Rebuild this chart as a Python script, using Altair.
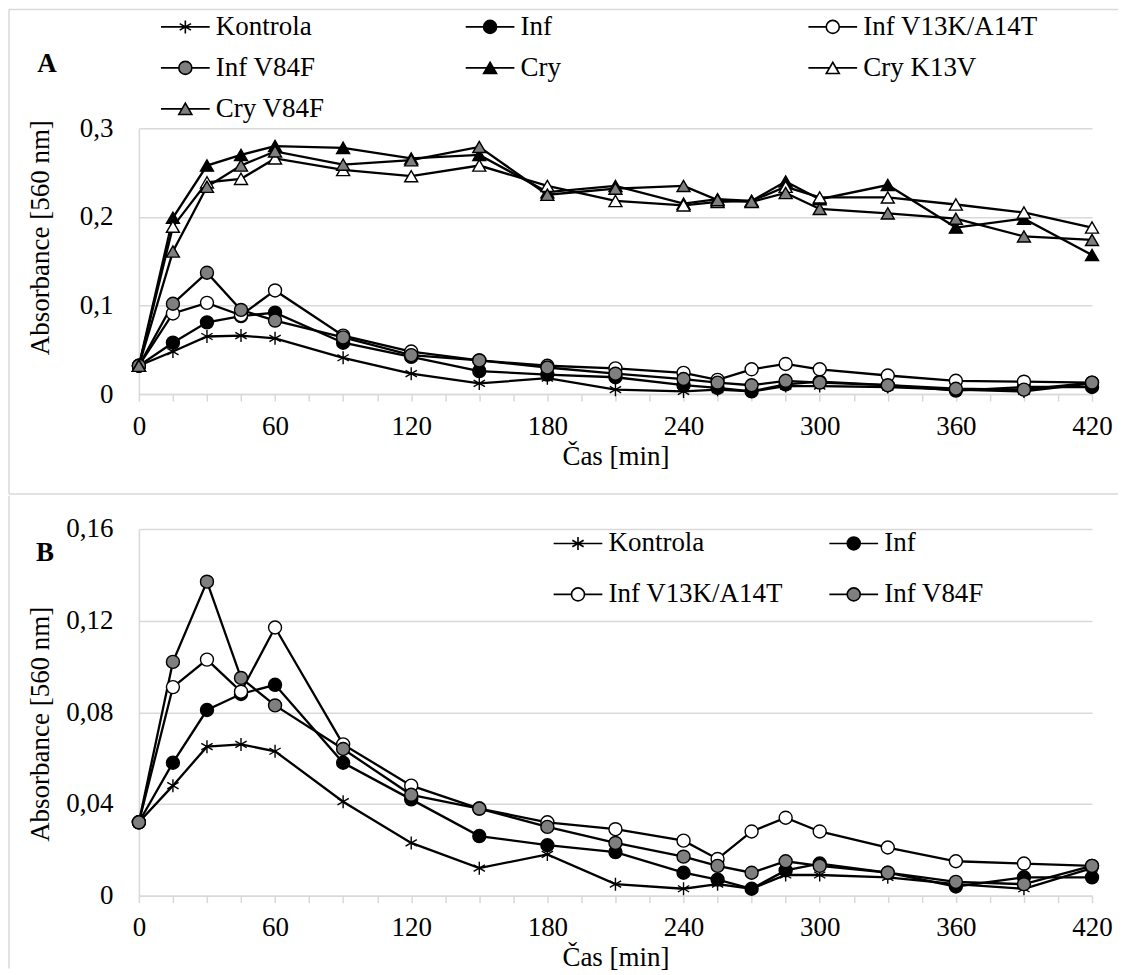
import altair as alt
import pandas as pd

# ---------------- data ----------------
times = [0, 15, 30, 45, 60, 90, 120, 150, 180, 210, 240, 255, 270, 285, 300, 330, 360, 390, 420]

kontrola = [0.032, 0.048, 0.065, 0.066, 0.063, 0.041, 0.023, 0.012, 0.018, 0.005,
            0.003, 0.005, 0.003, 0.009, 0.009, 0.008, 0.005, 0.003, 0.012]
inf = [0.032, 0.058, 0.081, 0.088, 0.092, 0.058, 0.042, 0.026, 0.022, 0.019,
       0.010, 0.007, 0.003, 0.011, 0.014, 0.010, 0.004, 0.008, 0.008]
inf_v13k_a14t = [0.032, 0.091, 0.103, 0.089, 0.117, 0.066, 0.048, 0.038, 0.032, 0.029,
                 0.024, 0.016, 0.028, 0.034, 0.028, 0.021, 0.015, 0.014, 0.013]
inf_v84f = [0.032, 0.102, 0.137, 0.095, 0.083, 0.064, 0.044, 0.038, 0.030, 0.023,
            0.017, 0.013, 0.010, 0.015, 0.013, 0.010, 0.006, 0.005, 0.013]
cry = [0.032, 0.199, 0.258, 0.270, 0.280, 0.278, 0.266, 0.270, 0.228, 0.235,
       0.215, 0.220, 0.218, 0.240, 0.220, 0.236, 0.188, 0.198, 0.157]
cry_k13v = [0.032, 0.189, 0.239, 0.243, 0.266, 0.253, 0.246, 0.258, 0.235, 0.218,
            0.213, 0.217, 0.218, 0.234, 0.222, 0.222, 0.214, 0.205, 0.188]
cry_v84f = [0.032, 0.161, 0.234, 0.258, 0.274, 0.259, 0.264, 0.279, 0.225, 0.232,
            0.235, 0.219, 0.217, 0.227, 0.209, 0.204, 0.198, 0.178, 0.174]

names_a = ["Kontrola", "Inf", "Inf V13K/A14T", "Inf V84F", "Cry", "Cry K13V", "Cry V84F"]
series_a = [kontrola, inf, inf_v13k_a14t, inf_v84f, cry, cry_k13v, cry_v84f]
names_b = names_a[:4]
series_b = series_a[:4]

fills_a = ["black", "black", "white", "#7f7f7f", "black", "white", "#7f7f7f"]
fills_b = fills_a[:4]

# legend columns (entries listed top to bottom in each column)
legend_cols_a = [["Kontrola", "Inf V84F", "Cry V84F"], ["Inf", "Cry"], ["Inf V13K/A14T", "Cry K13V"]]
legend_cols_b = [["Kontrola", "Inf V13K/A14T"], ["Inf", "Inf V84F"]]

x_ticks = list(range(0, 421, 15))
y_ticks_a = [0, 0.1, 0.2, 0.3]
y_ticks_b = [0, 0.04, 0.08, 0.12, 0.16]

# ---------------- styling ----------------
FONT = "Liberation Serif, Times New Roman, DejaVu Serif, serif"
FS = 27
GRID = "#d9d9d9"

STAR = "M0,-1V1M-0.87,-0.5L0.87,0.5M-0.87,0.5L0.87,-0.5"
CIRCLE = "circle"
TRI = "triangle-up"
L = 3.75
LEG_STAR = f"M-{L},0H{L}" + STAR
LEG_CIRCLE = f"M-{L},0H-1M1,0H{L}M1,0A1,1 0 1,1 -1,0A1,1 0 1,1 1,0Z"
LEG_TRI = f"M-{L},0H-0.5M0.5,0H{L}M0,-0.866L1,0.866L-1,0.866Z"

plot_shapes_a = [STAR, CIRCLE, CIRCLE, CIRCLE, TRI, TRI, TRI]
leg_shapes_a = [LEG_STAR, LEG_CIRCLE, LEG_CIRCLE, LEG_CIRCLE, LEG_TRI, LEG_TRI, LEG_TRI]
FILL_OF = dict(zip(names_a, fills_a))
LEGSHAPE_OF = dict(zip(names_a, leg_shapes_a))

W = 954


def long_df(names, series):
    rows = []
    for n, vals in zip(names, series):
        for t, v in zip(times, vals):
            rows.append({"series": n, "t": t, "v": v})
    return pd.DataFrame(rows)


def frame(x, x2, y, y2):
    return alt.Chart(pd.DataFrame({"k": [0]})).mark_rule(color=GRID, strokeWidth=1.5).encode(
        x=alt.value(x), x2=alt.value(x2), y=alt.value(y), y2=alt.value(y2))


def legend_kw(lx, ly, rowpad):
    return dict(orient="none", legendX=lx, legendY=ly, direction="vertical",
                rowPadding=rowpad, symbolSize=169, symbolStrokeColor="black",
                symbolStrokeWidth=1.6, labelOffset=17, labelFont=FONT, labelFontSize=FS,
                labelColor="black", labelLimit=500, padding=0, title=None)


def panel(names, series, fills, ydom, yvals, yfmt, height, title_y, letter, lpos,
          legend_cols, legend_xs, legend_y, rowpad, frames):
    df = long_df(names, series)
    n = len(names)
    x = alt.X("t:Q", title="Čas [min]",
              scale=alt.Scale(domain=[0, 420], nice=False, zero=False),
              axis=alt.Axis(values=x_ticks,
                            labelExpr="datum.value % 60 == 0 ? datum.label : ''",
                            grid=False, domainColor=GRID, domainWidth=1.5,
                            tickColor=GRID, tickWidth=1.5, tickSize=7,
                            labelPadding=12, labelFont=FONT, labelFontSize=FS,
                            labelColor="black", labelAngle=0, labelFlush=False,
                            titleFont=FONT, titleFontSize=FS, titleFontWeight="normal",
                            titleColor="black", titlePadding=4))
    y = alt.Y("v:Q", title="Absorbance [560 nm]",
              scale=alt.Scale(domain=ydom, nice=False, zero=True),
              axis=alt.Axis(values=yvals,
                            labelExpr=f"datum.value == 0 ? '0' : replace(format(datum.value, '{yfmt}'), '.', ',')",
                            grid=True, gridColor=GRID, gridWidth=1.5,
                            domainColor=GRID, domainWidth=1.5, ticks=False, tickSize=0,
                            labelPadding=26, labelFont=FONT, labelFontSize=FS,
                            labelColor="black",
                            titleFont=FONT, titleFontSize=FS, titleFontWeight="normal",
                            titleColor="black", titleAngle=270, titleBaseline="bottom",
                            titleAlign="center", titleX=-84, titleY=title_y))
    lines = alt.Chart(df).mark_line(color="black", strokeWidth=2.3).encode(
        x=x, y=y, detail="series:N", order="t:Q")
    pts = alt.Chart(df).mark_point(filled=True, stroke="black", strokeWidth=1.4,
                                   size=169, opacity=1).encode(
        x=x, y=y,
        shape=alt.Shape("series:N", scale=alt.Scale(domain=names, range=plot_shapes_a[:n]), legend=None),
        fill=alt.Fill("series:N", scale=alt.Scale(domain=names, range=fills), legend=None))

    legs = []
    for col, lx in zip(legend_cols, legend_xs):
        kw = legend_kw(lx, legend_y, rowpad)
        legs.append(alt.Chart(df).transform_filter("false").mark_point(
            filled=True, strokeWidth=1.6, size=169, opacity=1).encode(
            x=x, y=y,
            shape=alt.Shape("series:N", scale=alt.Scale(domain=col, range=[LEGSHAPE_OF[c] for c in col]),
                            legend=alt.Legend(**kw)),
            fill=alt.Fill("series:N", scale=alt.Scale(domain=col, range=[FILL_OF[c] for c in col]),
                          legend=alt.Legend(**kw)),
            stroke=alt.Stroke("series:N", scale=alt.Scale(domain=col, range=["black"] * len(col)),
                              legend=alt.Legend(**kw))))

    letter_layer = alt.Chart(pd.DataFrame({"label": [letter]})).mark_text(
        font=FONT, fontSize=FS, fontWeight="bold", align="center", baseline="middle",
        color="black").encode(x=alt.value(lpos[0]), y=alt.value(lpos[1]), text="label:N")
    return alt.layer(*frames, lines, pts, *legs, letter_layer).resolve_scale(
        shape="independent", fill="independent", stroke="independent").properties(width=W, height=height)


HA = 266
HB = 367

panel_a = panel(names_a, series_a, fills_a, [0, 0.3], y_ticks_a, ".1f", HA, 109, "A", (-92, -64),
                legend_cols_a, [33, 338, 681], -115, 13,
                [frame(-130, 980, -119, -119), frame(-130, -130, -119, 366), frame(-130, 980, 366, 366)])
panel_b = panel(names_b, series_b, fills_b, [0, 0.16], y_ticks_b, ".2f", HB, 195, "B", (-94, 24),
                legend_cols_b, [426, 702], 1, 23,
                [frame(-130, -130, -33, 440)])

chart = alt.vconcat(panel_a, panel_b, spacing=0).properties(padding=0).configure_view(stroke=None)

chart.save("out.html", embed_options={"renderer": "svg", "actions": False})
